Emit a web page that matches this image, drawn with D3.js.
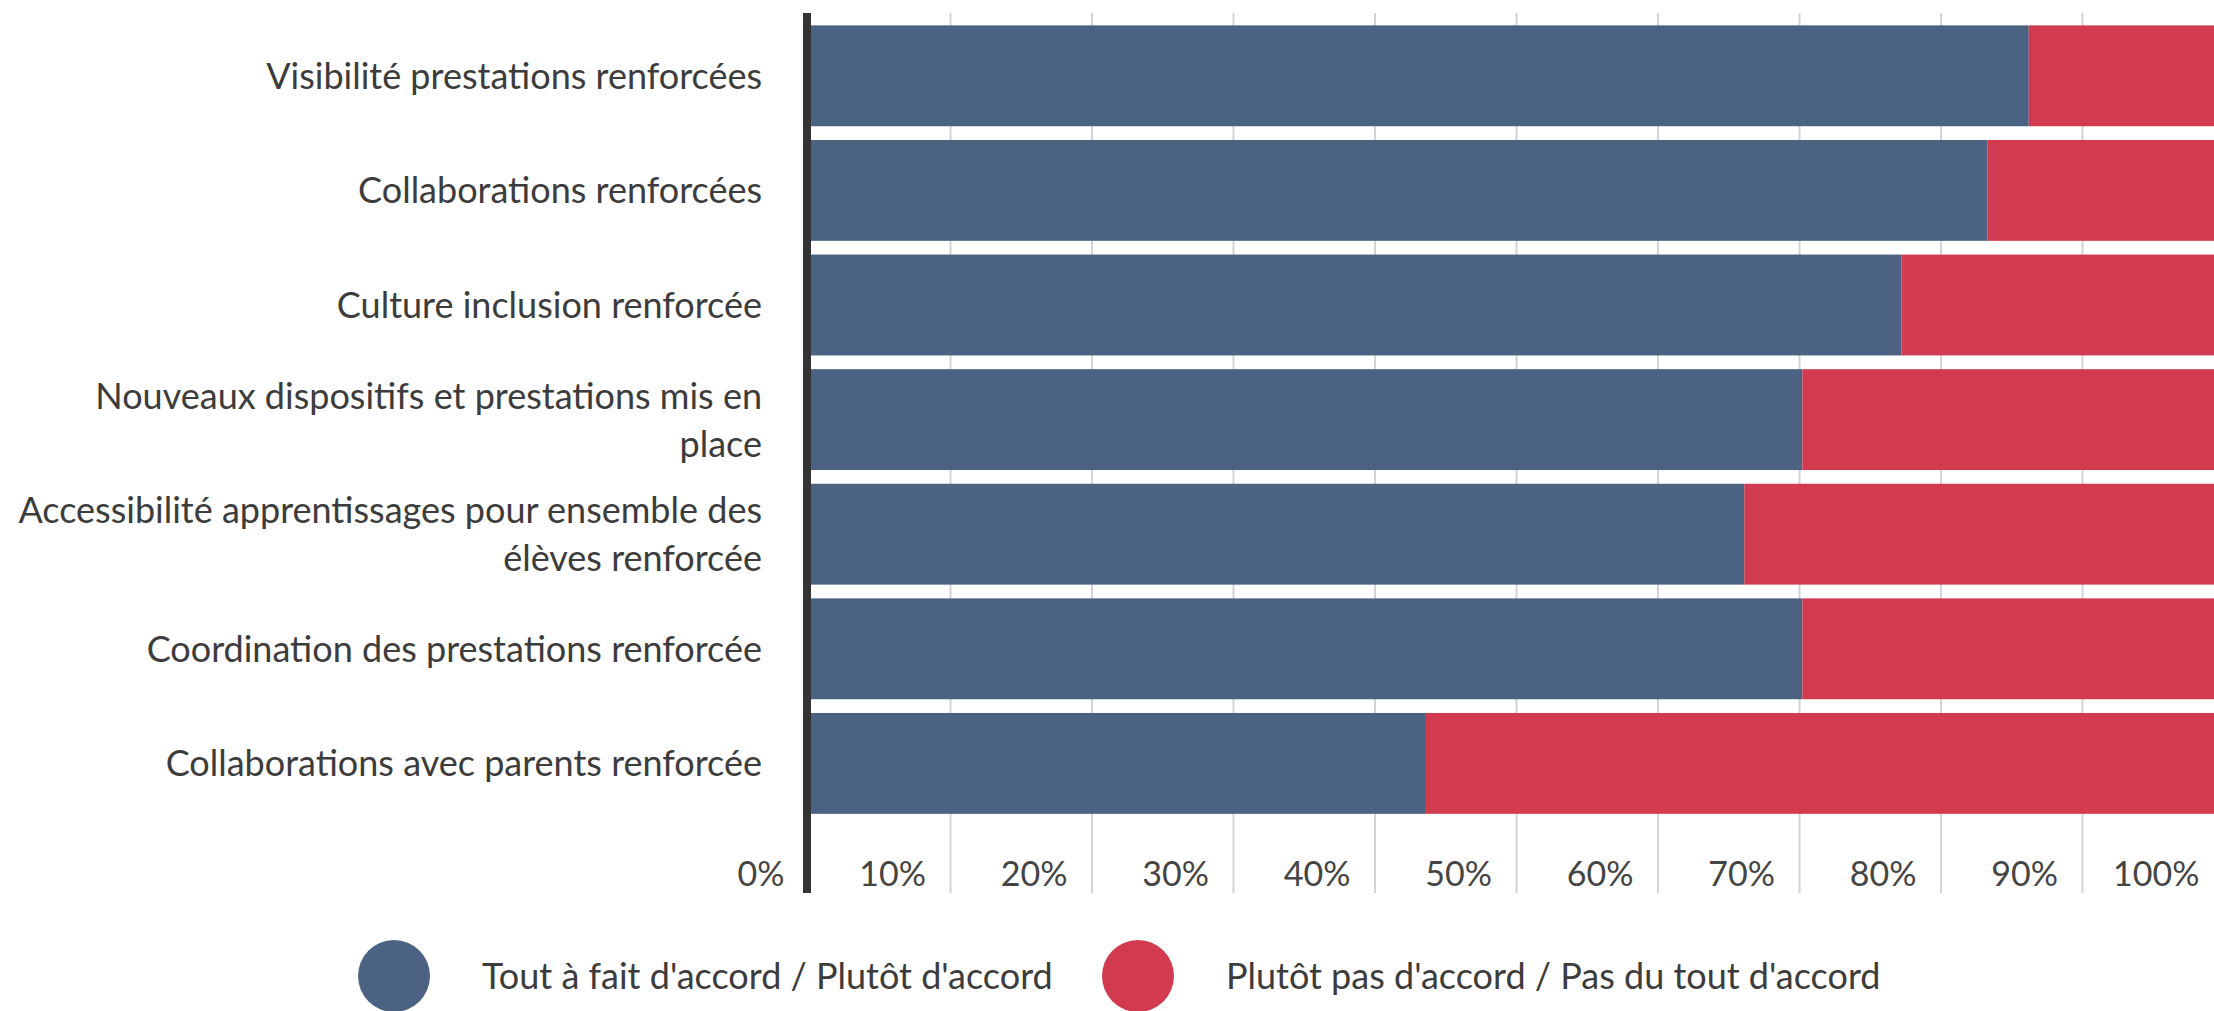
<!DOCTYPE html>
<html>
<head>
<meta charset="utf-8">
<script src="https://cdn.jsdelivr.net/npm/d3@7"></script>
<style>
  body { margin: 0; background: #fff; }
  svg { display: block; }
</style>
</head>
<body>
<svg id="chart"></svg>
<script>
// categories, top to bottom ("\n" = line break in the label)
var categories = [
    "Visibilité prestations renforcées",
    "Collaborations renforcées",
    "Culture inclusion renforcée",
    "Nouveaux dispositifs et prestations mis en\nplace",
    "Accessibilité apprentissages pour ensemble des\nélèves renforcée",
    "Coordination des prestations renforcée",
    "Collaborations avec parents renforcée"
];
// percentages
var agreeValues = [86.2, 83.3, 77.2, 70.2, 66.1, 70.2, 43.6];
var disagreeValues = [13.8, 16.7, 22.8, 29.8, 33.9, 29.8, 56.4];
var tickValues = [0, 10, 20, 30, 40, 50, 60, 70, 80, 90, 100];
var seriesKeys = ["agree", "disagree"];
var seriesNames = ["Tout à fait d'accord / Plutôt d'accord", "Plutôt pas d'accord / Pas du tout d'accord"];
var seriesColors = ["#4b6282", "#d13a4f"];

var width = 2214, height = 1011;
var labelFont = "Lato, sans-serif";

var svg = d3.select("#chart")
    .attr("width", width)
    .attr("height", height);

// table for the stack
var rows = categories.map(function(c, i) {
    return { cat: c, agree: agreeValues[i], disagree: disagreeValues[i] };
});
var stacked = d3.stack().keys(seriesKeys)(rows);

var x = d3.scaleLinear().domain([0, 100]).range([809, 2224]);
var y = d3.scaleBand()
    .domain(categories)
    .range([18.5, 820.7])
    .paddingInner(0.12)
    .paddingOuter(0.06);
var color = d3.scaleOrdinal().domain(seriesKeys).range(seriesColors);

// gridlines
svg.append("g")
    .selectAll("line")
    .data(tickValues.slice(1))
    .enter().append("line")
    .attr("x1", function(d) { return x(d); })
    .attr("x2", function(d) { return x(d); })
    .attr("y1", 13)
    .attr("y2", 893)
    .style("stroke", "#d4d4d4")
    .style("stroke-width", 2);

// bars
svg.append("g")
    .selectAll("g")
    .data(stacked)
    .enter().append("g")
    .style("fill", function(d) { return color(d.key); })
    .selectAll("rect")
    .data(function(d) { return d; })
    .enter().append("rect")
    .attr("x", function(d) { return x(d[0]); })
    .attr("y", function(d) { return y(d.data.cat); })
    .attr("width", function(d) { return x(d[1]) - x(d[0]); })
    .attr("height", y.bandwidth());

// vertical axis line
svg.append("line")
    .attr("x1", 807).attr("x2", 807)
    .attr("y1", 13).attr("y2", 893)
    .style("stroke", "#333")
    .style("stroke-width", 8);

// x tick labels (right aligned, left of each gridline)
var xAxis = svg.append("g")
    .attr("transform", "translate(0,886)")
    .call(d3.axisBottom(x).tickValues(tickValues).tickSize(0).tickFormat(function(d) { return d + "%"; }));
xAxis.select(".domain").remove();
xAxis.selectAll("text")
    .attr("y", 0)
    .attr("dy", 0)
    .attr("dx", -25)
    .attr("text-anchor", "end")
    .style("font-family", labelFont)
    .style("font-size", "34px")
    .style("fill", "#444");

// category labels
var catLabels = svg.append("g")
    .selectAll("text")
    .data(categories)
    .enter().append("text")
    .attr("text-anchor", "end")
    .style("font-family", labelFont)
    .style("font-size", "36px")
    .style("fill", "#3c3c3c");

catLabels.each(function(c) {
    var lines = c.split("\n");
    var cy = y(c) + y.bandwidth() / 2;
    var t = d3.select(this);
    lines.forEach(function(line, i) {
        t.append("tspan")
            .attr("x", 762)
            .attr("y", cy + (i - (lines.length - 1) / 2) * 48)
            .attr("dy", "0.36em")
            .text(line);
    });
});

// legend
var legendX = [394, 1138];
var legend = svg.append("g")
    .selectAll("g")
    .data(seriesKeys)
    .enter().append("g")
    .attr("transform", function(d, i) { return "translate(" + legendX[i] + ",976)"; });

legend.append("circle")
    .attr("r", 36)
    .style("fill", function(d) { return color(d); });

legend.append("text")
    .attr("x", 88)
    .attr("dy", "0.36em")
    .style("font-family", labelFont)
    .style("font-size", "36px")
    .style("fill", "#3c3c3c")
    .text(function(d, i) { return seriesNames[i]; });
</script>
</body>
</html>
